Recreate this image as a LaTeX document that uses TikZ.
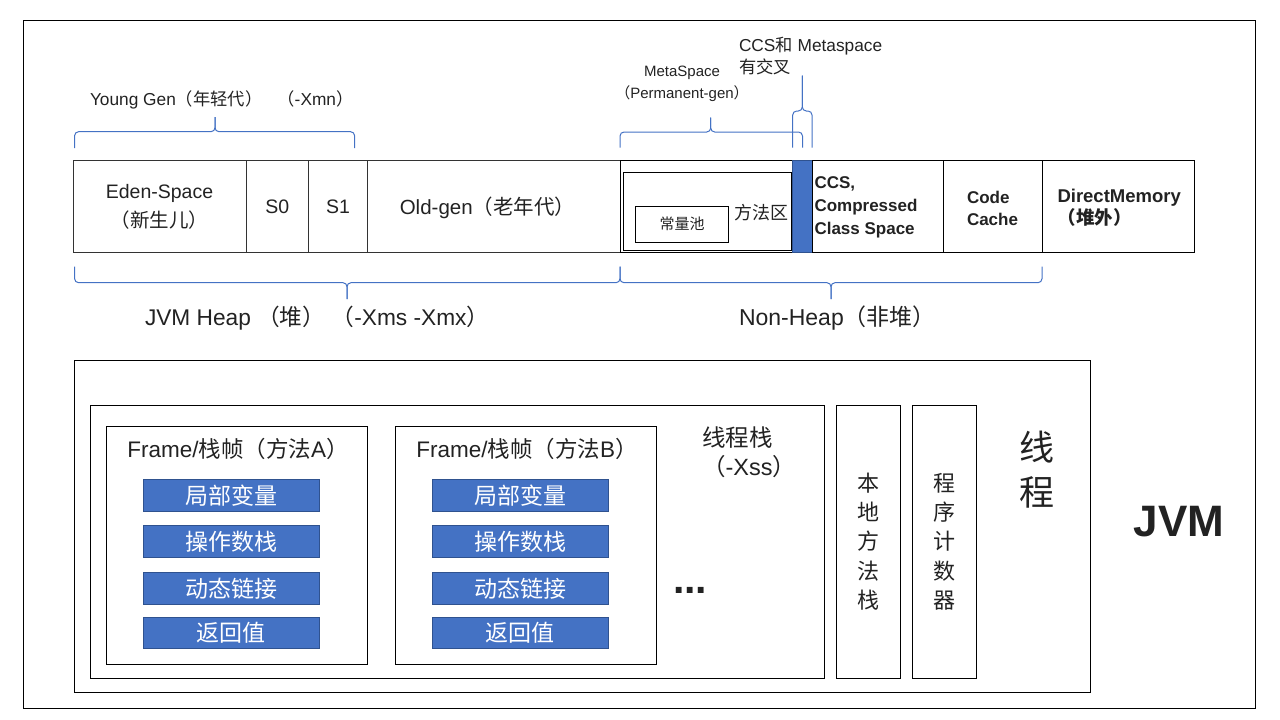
\documentclass[tikz,border=0pt]{standalone}
\usepackage{fontspec}
\setmainfont{Liberation Sans}
\newfontfamily\cjk{Noto Sans CJK SC}
\newcommand\zh[1]{{\cjk #1}}
\newcommand\fs[2]{\fontsize{#1}{#2}\selectfont}
\definecolor{bblue}{HTML}{4472C4}
\definecolor{bborder}{HTML}{2F528F}
\definecolor{bracec}{HTML}{4472C4}
\definecolor{txt}{HTML}{222222}
% [style] name x1 y1 x2 y2 text
\newcommand\bx[7][]{\node[boxn,#1,minimum width={#5-#3},minimum height={#6-#4}] (#2) at ({(#3+#5)/2},{(#4+#6)/2}) {#7};}
\begin{document}
\begin{tikzpicture}[x=1pt,y=-1pt,line width=1pt,
  boxn/.style={draw=black,line width=1pt,inner sep=0pt,outer sep=0pt,align=center,text=txt},
  heapcell/.style={draw=black!80,font=\fs{19.5}{29}},
  row/.style={fill=bblue,draw=bborder,text=white,font=\fs{23}{23}},
  lbl/.style={inner sep=0pt,outer sep=0pt,text=txt},
  bracel/.style={draw=bracec,line width=1pt,rounded corners=4pt}]
\useasboundingbox (0,0) rectangle (1280,720);
% outer frame
\bx{outer}{23.3}{20.3}{1255.3}{708.3}{}
% ---------- memory bar ----------
\bx[heapcell]{eden}{73}{160.5}{246}{252.7}{Eden-Space\\\zh{（新生儿）}}
\bx[heapcell]{s0}{246}{160.5}{308.7}{252.7}{S0}
\bx[heapcell]{s1}{308.7}{160.5}{367.3}{252.7}{S1}
\bx[heapcell]{old}{367.3}{160.5}{620}{252.7}{}
\node[lbl,font=\fs{20.5}{24}] (oldt) at (487.5,208) {Old-gen\zh{（老年代）}};
\bx{meta}{620}{160.5}{792}{252.7}{}
\bx{method}{623.7}{172.7}{791.7}{250}{}
\bx[font=\fs{15}{18}]{pool}{635.6}{206}{728.5}{242}{\zh{常量池}}
\node[lbl,font=\fs{18}{20}] (methodt) at (761,212.7) {\zh{方法区}};
\bx[fill=bblue,draw=bborder]{ccsblue}{792}{160.5}{812}{252.7}{}
\bx{ccs}{812}{160.5}{943}{252.7}{}
\node[lbl,anchor=west,align=left,font=\fs{17}{23}\bfseries] (ccst) at (814.5,207.5) {CCS,\\Compressed\\Class Space};
\bx{code}{943}{160.5}{1042}{252.7}{}
\node[lbl,anchor=west,align=left,font=\fs{17}{22}\bfseries] (codet) at (967,208) {Code\\Cache};
\bx{direct}{1042}{160.5}{1194}{252.7}{}
\node[lbl,anchor=west,align=left,font=\fs{18.5}{22}\bfseries] (directt) at (1057.5,208) {DirectMemory\\\zh{（堆外）}};
% ---------- braces ----------
\draw[bracel] (74.6,148) |- (215,131.7) -- (215,117);
\draw[bracel] (354.6,148) |- (215,131.7) -- (215,117);
\draw[bracel] (620,147.5) |- (710.7,132) -- (710.7,117.5);
\draw[bracel] (802.5,147.5) |- (710.7,132) -- (710.7,117.5);
\draw[bracel] (792.7,147.5) |- (802.3,111) -- (802.3,75.7);
\draw[bracel] (812,147.5) |- (802.3,111) -- (802.3,75.7);
\draw[bracel] (74.6,266.5) |- (347,282.7) -- (347,299);
\draw[bracel] (620,266.5) |- (347,282.7) -- (347,299);
\draw[bracel] (620,266.5) |- (831,282.7) -- (831,299);
\draw[bracel] (1042,266.5) |- (831,282.7) -- (831,299);
% ---------- labels ----------
\node[lbl,anchor=west,font=\fs{17.3}{20}] (young) at (90,100) {Young Gen\zh{（年轻代）}\hspace{15pt}\zh{（}-Xmn\zh{）}};
\node[lbl,align=center,font=\fs{15}{21.5}] (metat) at (682,84) {MetaSpace\\\zh{（}Permanent-gen\zh{）}};
\node[lbl,anchor=west,align=left,font=\fs{17.3}{22}] (ccsmeta) at (739,56) {CCS\zh{和} Metaspace\\\zh{有交叉}};
\node[lbl,anchor=west,font=\fs{22.7}{26}] (heapt) at (145,318.5) {JVM Heap \zh{（堆）} \zh{（}-Xms -Xmx\zh{）}};
\node[lbl,anchor=west,font=\fs{23}{26}] (nonheapt) at (739,318.5) {Non-Heap\zh{（非堆）}};
% ---------- thread area ----------
\bx{thread}{74.3}{360.3}{1090.7}{692.3}{}
\bx{tstack}{90.3}{405.3}{824.3}{678.3}{}
\bx{frameA}{106.3}{426.3}{367.3}{664.3}{}
\bx{frameB}{395.3}{426.3}{656.7}{664.3}{}
\node[lbl,font=\fs{22.5}{24}] (frameAt) at (238,449) {Frame/\zh{栈帧（方法}A\zh{）}};
\node[lbl,font=\fs{22.5}{24}] (frameBt) at (527,449) {Frame/\zh{栈帧（方法}B\zh{）}};
\bx[row]{a1}{143}{479.3}{319.7}{511.7}{\zh{局部变量}}
\bx[row]{a2}{143}{525.3}{319.7}{557.7}{\zh{操作数栈}}
\bx[row]{a3}{143}{572.3}{319.7}{604.7}{\zh{动态链接}}
\bx[row]{a4}{143}{617.3}{319.7}{648.7}{\zh{返回值}}
\bx[row]{b1}{432}{479.3}{608.7}{511.7}{\zh{局部变量}}
\bx[row]{b2}{432}{525.3}{608.7}{557.7}{\zh{操作数栈}}
\bx[row]{b3}{432}{572.3}{608.7}{604.7}{\zh{动态链接}}
\bx[row]{b4}{432}{617.3}{608.7}{648.7}{\zh{返回值}}
\node[lbl,anchor=base west,font=\fs{41}{41}\bfseries] (dots) at (673,593) {...};
\node[lbl,anchor=west,align=left,font=\fs{23.5}{29}] (tstackt) at (702,452.5) {\zh{线程栈}\\\zh{（}-Xss\zh{）}};
\bx{native}{836.3}{405.3}{900.7}{678.3}{}
\bx{pc}{912.3}{405.3}{976.7}{678.3}{}
\node[lbl,align=center,font=\fs{22}{29.3}] (nativet) at (868.5,541.5) {\zh{本}\\\zh{地}\\\zh{方}\\\zh{法}\\\zh{栈}};
\node[lbl,align=center,font=\fs{22}{29.3}] (pct) at (944.5,541.5) {\zh{程}\\\zh{序}\\\zh{计}\\\zh{数}\\\zh{器}};
\node[lbl,align=center,font=\fs{35}{45}] (threadt) at (1037,470) {\zh{线}\\\zh{程}};
\node[lbl,font=\fs{44}{48}\bfseries] (jvmt) at (1179,522) {JVM};
\end{tikzpicture}
\end{document}
